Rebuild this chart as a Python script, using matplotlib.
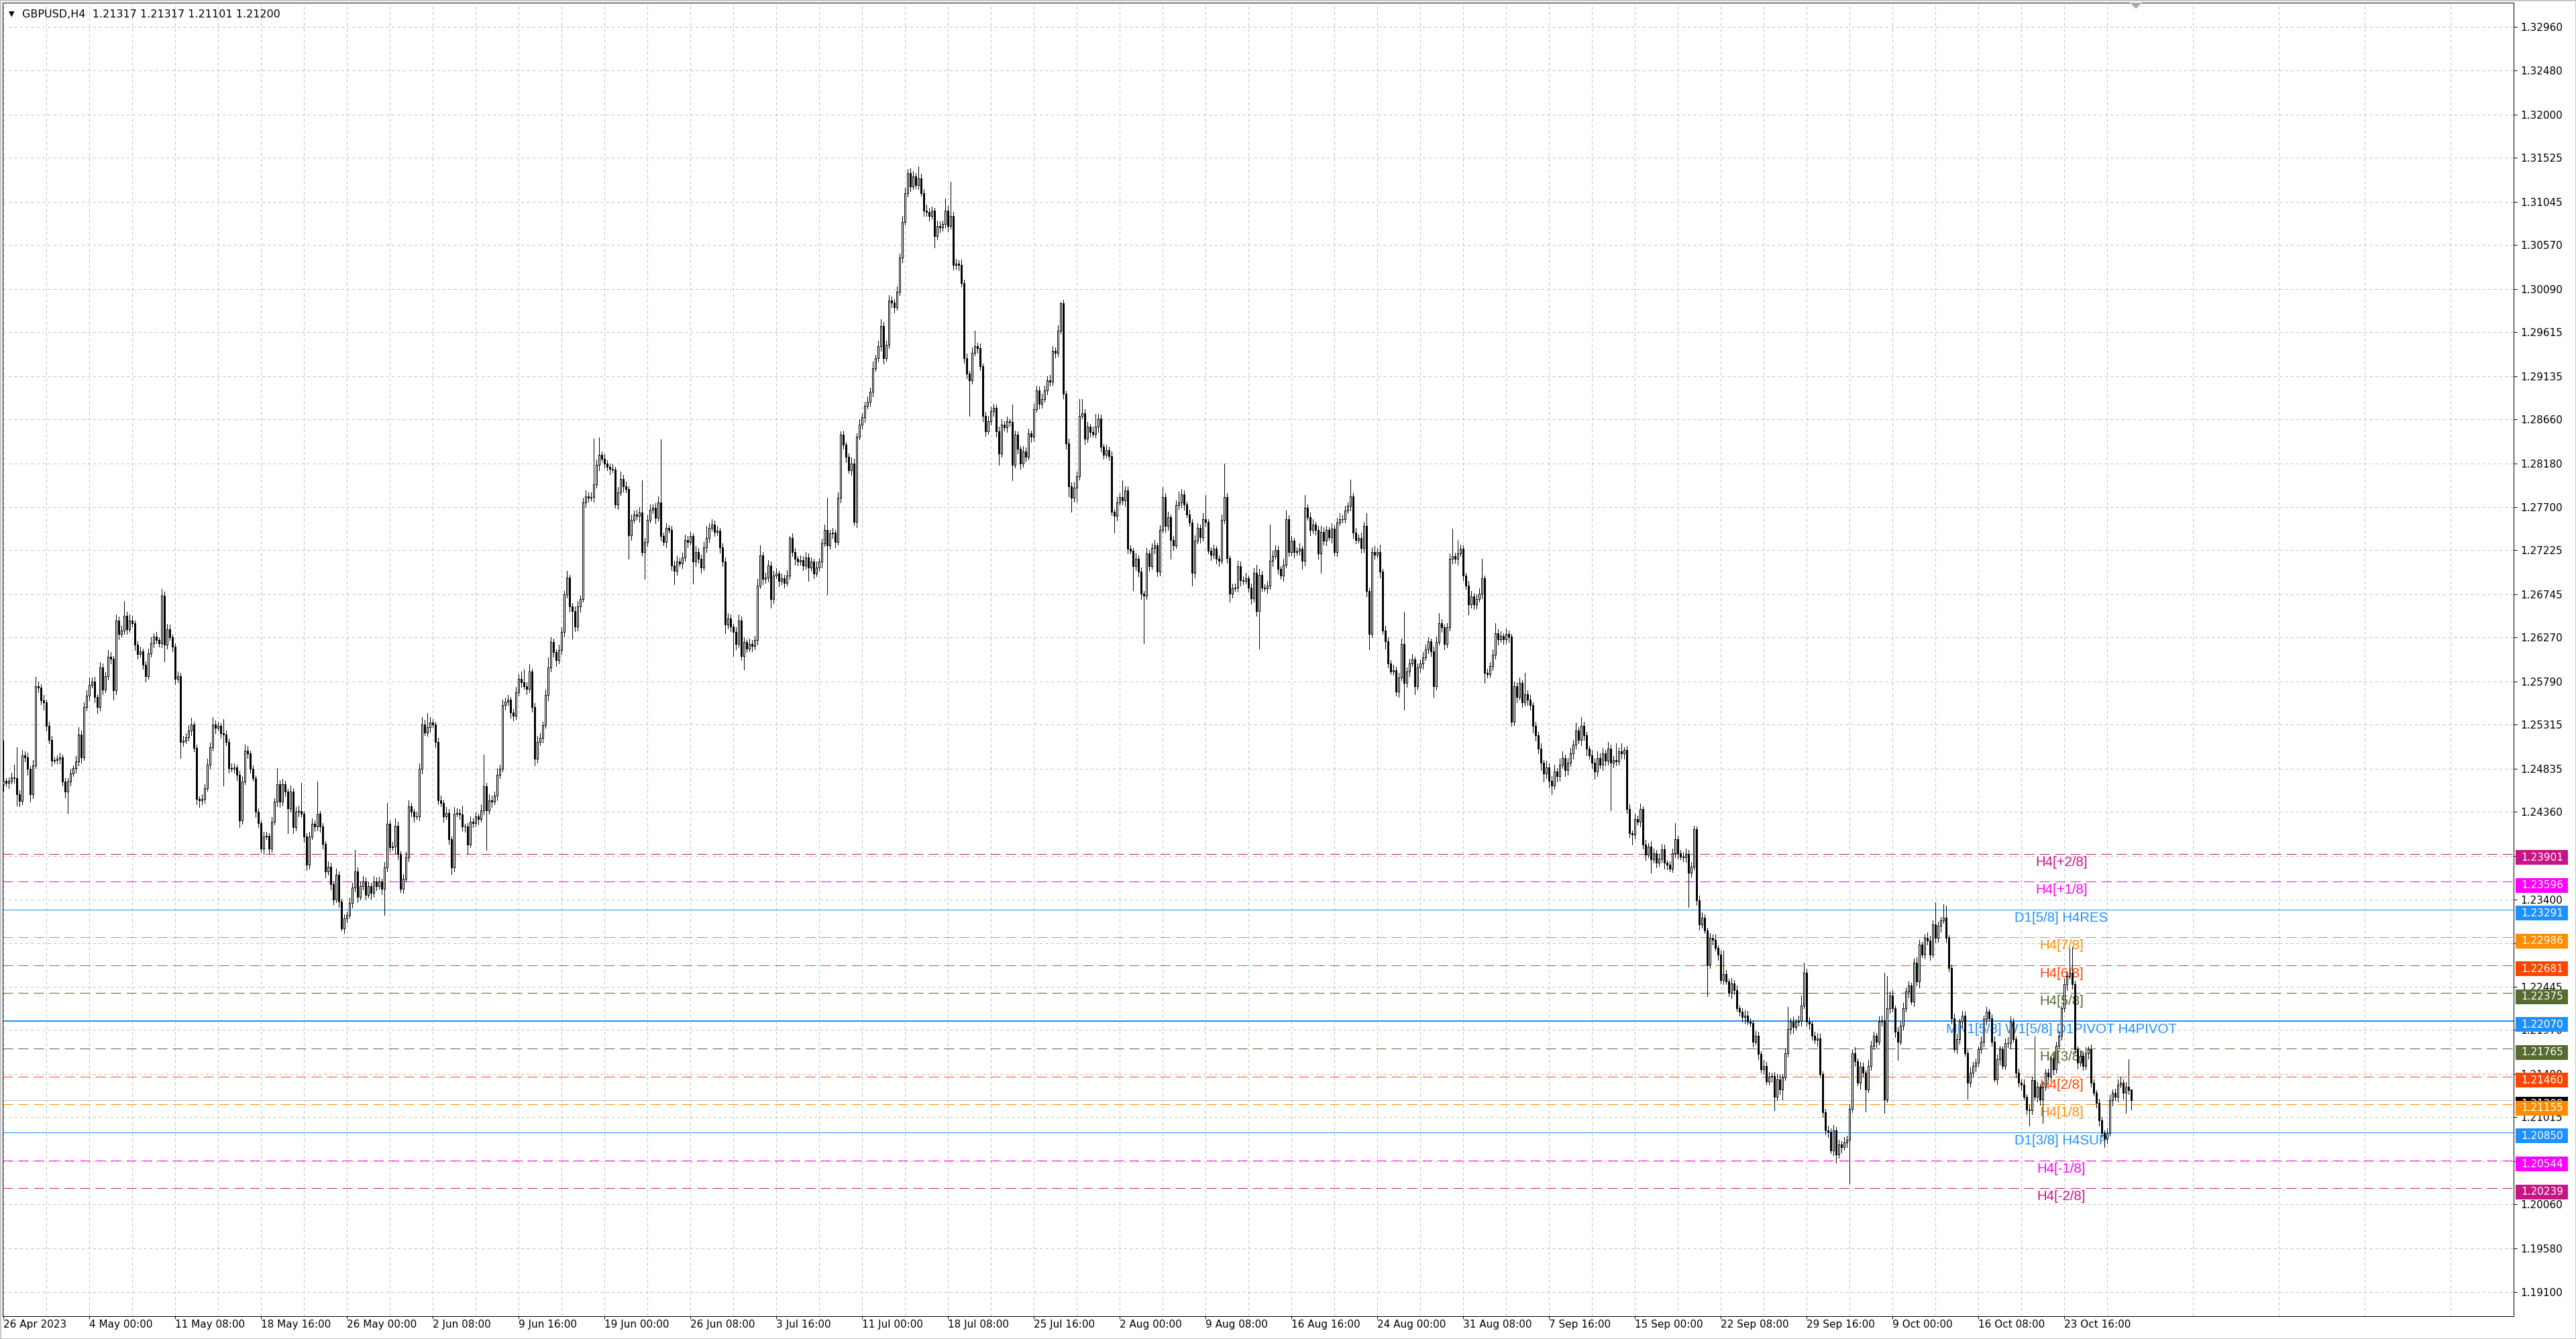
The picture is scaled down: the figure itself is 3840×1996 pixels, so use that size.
import numpy as np
import matplotlib
matplotlib.use("Agg")
import matplotlib.pyplot as plt
import matplotlib.transforms as mtransforms
from matplotlib.patches import Rectangle, Polygon

plt.rcParams['font.family'] = ['DejaVu Sans']
plt.rcParams['lines.scale_dashes'] = False

# ---------------- data ----------------
title_text = "GBPUSD,H4  1.21317 1.21317 1.21101 1.21200"
first_open_pips = 12466
last_bar_ohlc = (1.21317, 1.21317, 1.21101, 1.21200)

# H4 closes in pips (1 pip = 0.0001)
close_a = [12470, 12468, 12470, 12474, 12473, 12455, 12448, 12498, 12496, 12483,
           12455, 12487, 12574, 12572, 12558, 12556, 12530, 12515, 12492, 12493,
           12494, 12496, 12469, 12458, 12469, 12478, 12484, 12491, 12521, 12496,
           12551, 12563, 12575, 12579, 12562, 12551, 12594, 12570, 12585, 12606,
           12604, 12569, 12646, 12631, 12635, 12651, 12636, 12646, 12643, 12619,
           12609, 12612, 12597, 12585, 12610, 12621, 12628, 12624, 12621, 12673,
           12619, 12636, 12627, 12617, 12582, 12585, 12513, 12514, 12518, 12525,
           12532, 12506, 12450, 12449, 12450, 12462, 12488, 12507, 12532, 12528,
           12530, 12522, 12521, 12513, 12484, 12483, 12485, 12477, 12427, 12469,
           12503, 12500, 12483, 12473, 12436, 12424, 12396, 12409, 12410, 12396]
close_b = [12425, 12447, 12466, 12447, 12466, 12458, 12440, 12458, 12419, 12436,
           12437, 12434, 12409, 12378, 12409, 12423, 12420, 12434, 12420, 12401,
           12371, 12376, 12357, 12340, 12367, 12338, 12308, 12319, 12323, 12336,
           12353, 12371, 12343, 12355, 12360, 12345, 12355, 12347, 12360, 12355,
           12360, 12352, 12375, 12423, 12397, 12398, 12421, 12390, 12352, 12363,
           12386, 12442, 12436, 12431, 12431, 12483, 12532, 12523, 12529, 12534,
           12532, 12513, 12449, 12446, 12431, 12435, 12406, 12375, 12434, 12435,
           12433, 12420, 12420, 12400, 12425, 12424, 12431, 12428, 12438, 12464,
           12438, 12449, 12447, 12454, 12477, 12483, 12553, 12557, 12559, 12545,
           12541, 12567, 12582, 12578, 12574, 12571, 12590, 12551, 12494, 12513]
close_c = [12517, 12531, 12564, 12594, 12622, 12611, 12602, 12613, 12633, 12674,
           12693, 12661, 12656, 12639, 12661, 12669, 12775, 12782, 12780, 12781,
           12795, 12816, 12827, 12823, 12818, 12814, 12812, 12811, 12773, 12786,
           12801, 12793, 12790, 12739, 12756, 12762, 12760, 12764, 12721, 12732,
           12756, 12767, 12769, 12758, 12775, 12738, 12732, 12747, 12745, 12706,
           12700, 12710, 12708, 12715, 12734, 12732, 12738, 12710, 12721, 12713,
           12704, 12726, 12736, 12747, 12751, 12743, 12744, 12726, 12710, 12641,
           12648, 12639, 12633, 12620, 12646, 12607, 12622, 12615, 12620, 12618,
           12624, 12684, 12717, 12691, 12693, 12706, 12669, 12695, 12697, 12689,
           12692, 12687, 12695, 12736, 12721, 12713, 12710, 12712, 12706, 12715]
close_d = [12704, 12710, 12697, 12704, 12710, 12730, 12745, 12728, 12741, 12742,
           12732, 12780, 12849, 12838, 12825, 12810, 12818, 12754, 12847, 12860,
           12868, 12881, 12885, 12896, 12922, 12933, 12946, 12968, 12933, 12948,
           12996, 12994, 12989, 13006, 13043, 13082, 13114, 13136, 13121, 13132,
           13123, 13130, 13114, 13095, 13093, 13089, 13095, 13067, 13078, 13076,
           13080, 13095, 13078, 13089, 13035, 13037, 13035, 13015, 12933, 12916,
           12909, 12939, 12946, 12944, 12924, 12870, 12853, 12864, 12875, 12879,
           12853, 12829, 12860, 12857, 12864, 12863, 12816, 12849, 12834, 12818,
           12831, 12825, 12851, 12847, 12877, 12898, 12883, 12888, 12898, 12909,
           12907, 12941, 12939, 12963, 12993, 12894, 12840, 12793, 12780, 12791]
close_e = [12804, 12870, 12873, 12845, 12858, 12852, 12850, 12858, 12867, 12836,
           12827, 12832, 12826, 12765, 12760, 12775, 12781, 12777, 12788, 12724,
           12722, 12705, 12713, 12699, 12675, 12673, 12719, 12705, 12725, 12728,
           12699, 12745, 12781, 12749, 12759, 12734, 12728, 12772, 12775, 12784,
           12773, 12762, 12753, 12698, 12733, 12747, 12737, 12757, 12754, 12722,
           12718, 12724, 12713, 12711, 12756, 12781, 12714, 12675, 12681, 12682,
           12705, 12690, 12689, 12692, 12682, 12670, 12698, 12656, 12696, 12682,
           12681, 12684, 12711, 12716, 12723, 12702, 12695, 12707, 12757, 12721,
           12733, 12721, 12722, 12724, 12711, 12769, 12759, 12745, 12751, 12745,
           12719, 12743, 12733, 12745, 12737, 12746, 12721, 12753, 12757, 12757]
close_f = [12766, 12771, 12782, 12742, 12734, 12736, 12725, 12749, 12678, 12631,
           12721, 12718, 12721, 12699, 12635, 12623, 12599, 12590, 12591, 12568,
           12583, 12620, 12577, 12590, 12599, 12603, 12574, 12594, 12599, 12605,
           12614, 12623, 12612, 12574, 12622, 12643, 12638, 12620, 12638, 12713,
           12716, 12713, 12719, 12724, 12695, 12684, 12663, 12672, 12663, 12669,
           12675, 12692, 12588, 12587, 12596, 12608, 12632, 12625, 12629, 12625,
           12631, 12628, 12535, 12574, 12562, 12577, 12556, 12565, 12559, 12553,
           12530, 12520, 12505, 12490, 12478, 12485, 12470, 12465, 12480, 12475,
           12488, 12495, 12482, 12490, 12500, 12510, 12525, 12515, 12530, 12520,
           12505, 12498, 12490, 12480, 12495, 12488, 12500, 12492, 12505, 12490]
close_g = [12493, 12491, 12502, 12500, 12504, 12439, 12413, 12411, 12428, 12425,
           12439, 12400, 12389, 12398, 12384, 12391, 12380, 12385, 12395, 12380,
           12378, 12374, 12391, 12406, 12391, 12387, 12386, 12390, 12369, 12376,
           12417, 12339, 12313, 12320, 12306, 12269, 12298, 12296, 12287, 12280,
           12252, 12258, 12250, 12238, 12248, 12241, 12221, 12217, 12211, 12213,
           12206, 12205, 12184, 12191, 12171, 12154, 12158, 12141, 12146, 12147,
           12124, 12143, 12132, 12145, 12172, 12198, 12206, 12200, 12206, 12207,
           12224, 12260, 12206, 12204, 12191, 12186, 12188, 12149, 12107, 12087,
           12086, 12065, 12087, 12061, 12072, 12069, 12074, 12077, 12111, 12172,
           12163, 12139, 12157, 12150, 12132, 12158, 12180, 12191, 12184, 12206]
close_h = [12208, 12121, 12221, 12235, 12221, 12195, 12184, 12202, 12221, 12239,
           12246, 12228, 12271, 12250, 12291, 12280, 12298, 12295, 12280, 12313,
           12298, 12311, 12317, 12320, 12298, 12265, 12210, 12176, 12187, 12206,
           12213, 12172, 12139, 12150, 12158, 12161, 12176, 12184, 12209, 12217,
           12210, 12184, 12143, 12165, 12176, 12158, 12183, 12183, 12206, 12187,
           12150, 12139, 12137, 12124, 12110, 12109, 12142, 12124, 12135, 12121,
           12135, 12150, 12146, 12165, 12154, 12180, 12191, 12221, 12247, 12256,
           12260, 12247, 12176, 12161, 12169, 12158, 12172, 12176, 12139, 12128,
           12117, 12098, 12084, 12078, 12084, 12120, 12128, 12124, 12137, 12139,
           12128, 12135, 12131, 12120]

# upper / lower wick lengths in pips
wick_up_a = [44,3,4,5,14,34,5,6,4,5, 3,6,10,5,4,6,3,5,4,3, 4,5,3,4,4,5,3,6,8,4,
             5,6,8,4,5,3,6,5,4,7, 5,3,6,4,5,16,4,6,5,3, 4,5,3,4,5,6,4,5,3,7,
             4,6,5,3,4,5,3,5,4,6, 7,3,4,3,5,4,6,5,8,4, 5,3,16,4,3,5,4,3,4,6,
             7,5,3,4,3,4,3,5,4,3]
wick_dn_a = [7,4,6,3,5,12,6,4,5,6, 8,4,3,5,4,8,5,4,6,3, 4,5,4,6,23,4,3,5,4,6,
             3,4,5,3,6,7,4,5,3,4, 5,10,4,6,3,4,5,3,4,6, 5,3,4,6,3,4,5,3,4,5,
             18,4,3,5,6,4,18,5,3,4, 5,4,6,8,5,4,3,5,4,6, 3,5,56,4,5,3,4,6,8,4,
             3,5,4,3,6,5,4,6,3,6]
wick_up_b = [5,4,18,5,6,4,3,7,4,5, 6,31,3,4,5,6,4,35,3,4, 3,6,4,3,7,4,3,5,4,6,
             5,23,4,5,6,4,5,3,6,4, 5,3,6,23,4,5,8,4,3,5, 6,7,4,3,5,6,8,5,15,6,
             4,3,4,5,3,6,4,3,7,5, 4,10,3,4,6,4,5,3,6,35, 4,6,5,4,7,5,6,4,5,3,
             4,6,5,8,14,4,8,3,4,6]
wick_dn_b = [4,3,5,6,4,5,27,4,6,3, 5,4,6,6,4,3,5,4,6,5, 7,4,6,5,3,6,2,5,4,3,
             5,4,6,3,4,5,3,6,4,5, 3,6,29,4,5,3,8,6,4,5, 3,4,5,6,3,4,5,3,4,5,
             3,6,5,4,6,3,5,7,4,3, 5,4,6,10,3,5,4,6,3,5, 44,4,6,3,5,4,3,5,4,6,
             5,3,4,5,3,6,4,5,7,4]
wick_up_c = [5,4,6,11,5,4,3,6,5,4, 7,3,4,5,6,4,5,6,4,5, 50,6,19,4,5,3,4,5,3,6,
             8,4,5,3,6,4,5,6,35,4, 5,6,4,5,7,69,4,5,3,4, 5,6,4,5,6,4,5,3,6,4,
             5,6,13,5,6,4,5,3,4,5, 6,4,3,5,6,4,5,3,6,4, 5,7,11,4,5,6,4,5,6,3,
             5,4,6,2,5,4,3,5,4,6]
wick_dn_c = [4,5,3,6,4,5,6,3,4,5, 3,6,30,5,4,6,3,5,4,3, 5,4,6,3,5,4,6,3,4,5,
             3,6,4,26,5,3,4,6,4,30, 5,3,4,6,3,5,4,6,3,5, 15,4,3,5,4,6,3,24,5,4,
             6,3,5,4,3,5,4,6,5,9, 4,5,26,6,4,5,15,4,3,6, 4,5,3,6,4,5,9,4,3,6,
             4,5,3,4,5,6,4,3,5,4]
wick_up_d = [4,5,3,6,4,5,6,35,4,5, 3,6,4,5,3,4,6,5,4,6, 5,4,6,5,7,4,6,8,5,4,
             6,5,4,6,5,7,6,4,5,6, 4,13,5,4,6,5,4,3,6,5, 4,13,5,37,4,5,3,6,4,5,
             3,6,17,4,5,3,4,6,5,4, 3,5,6,4,5,3,19,5,4,3, 6,4,5,3,6,5,4,6,5,4,
             6,5,4,6,2,4,3,5,4,6]
wick_dn_d = [15,4,5,3,4,6,3,54,4,5, 6,3,5,4,6,3,5,4,6,3, 4,5,3,4,5,3,4,5,6,3,
             4,5,6,3,4,5,3,4,5,3, 4,5,3,6,4,5,3,13,4,5, 3,4,6,3,5,4,6,3,5,5,
             39,4,3,5,4,6,5,3,4,5, 6,13,4,3,5,4,17,3,5,6, 4,5,3,6,4,3,5,4,3,5,
             4,3,5,4,3,5,6,11,15,4]
wick_up_e = [5,18,15,4,5,3,6,14,5,4, 3,6,4,5,3,6,4,18,5,5, 4,3,6,4,5,3,6,4,5,6,
             3,5,11,4,6,3,4,5,12,6, 4,3,5,4,6,5,4,6,26,3, 4,5,3,4,6,37,4,3,5,4,
             6,5,4,6,3,4,5,9,6,4, 3,5,40,6,5,4,3,6,9,4, 5,3,4,6,3,14,4,5,6,3,
             4,6,5,4,3,6,4,5,6,4]
wick_dn_e = [15,4,3,6,4,5,3,4,6,5, 4,3,5,4,18,5,3,4,6,5, 3,26,4,5,6,52,4,5,3,6,
             5,4,3,6,4,21,5,3,4,5, 6,3,4,14,5,3,6,4,5,3, 6,4,5,6,3,4,5,9,4,3,
             5,6,4,3,5,6,4,5,41,4, 3,5,4,6,3,5,4,6,3,5, 4,6,3,4,9,5,3,6,4,5,
             6,21,4,5,3,6,4,5,3,4]
wick_up_f = [5,4,18,3,5,4,6,5,14,4, 5,6,4,8,3,5,4,3,6,4, 5,6,35,4,5,6,3,5,4,6,
             5,4,3,5,6,11,4,3,5,6, 30,4,15,5,4,3,5,6,4,5, 6,21,3,5,4,6,11,4,5,3,
             6,4,3,5,4,6,3,23,4,5, 3,5,4,6,3,7,4,5,8,4, 6,7,4,5,6,5,9,4,10,5,
             4,3,6,4,7,5,6,4,8,5]
wick_dn_f = [4,3,5,6,4,3,5,4,6,17, 4,5,3,6,4,8,5,3,4,5, 6,3,29,4,5,3,9,4,5,6,
             3,4,5,12,4,3,5,6,4,3, 5,4,6,3,5,4,11,3,5,4, 3,5,11,4,3,5,4,6,3,5,
             4,6,5,4,6,3,5,4,6,5, 7,6,5,8,9,5,7,10,4,6, 5,4,7,5,4,6,5,4,6,5,
             7,4,6,8,5,4,6,5,4,52]
wick_up_g = [4,18,5,9,3,4,5,3,6,4, 6,3,5,4,6,5,3,4,6,5, 3,4,5,18,4,3,5,6,4,5,
             4,3,5,6,4,3,5,4,6,3, 4,26,5,3,6,4,5,3,4,6, 5,4,3,5,4,3,6,4,5,3,
             4,6,5,4,5,24,4,5,3,6, 11,11,4,5,3,4,6,5,3,4, 5,3,6,4,5,3,6,4,5,4,
             6,3,5,4,3,6,5,4,3,6]
wick_dn_g = [5,4,3,5,6,4,5,11,4,3, 5,4,6,3,15,4,5,3,4,6, 5,3,4,5,6,3,4,5,37,4,
             3,5,6,4,3,35,4,5,3,6, 4,5,3,4,6,5,3,4,5,6, 3,4,5,3,6,4,5,3,4,6,
             15,4,5,11,3,4,5,6,3,4, 5,3,4,6,5,3,6,4,5,4, 6,3,5,9,4,6,3,5,48,4,
             5,3,6,4,24,3,5,4,6,3]
wick_up_h = [5,52,35,4,6,3,5,4,6,5, 4,3,4,6,5,3,4,6,5,4, 24,5,4,15,13,3,4,5,6,3,
             5,4,3,6,4,5,3,6,4,5, 3,4,6,5,4,3,5,6,6,4, 3,5,4,6,3,5,4,48,5,3,
             6,4,5,3,6,4,5,3,6,5, 26,28,4,3,5,4,6,3,5,4, 3,5,4,3,5,6,4,5,6,7,
             4,5,30,0]
wick_dn_h = [4,15,3,5,4,6,20,3,5,4, 6,3,5,4,6,3,5,4,6,3, 5,4,6,3,5,4,6,3,4,5,
             6,3,17,4,5,6,3,4,5,6, 3,4,2,5,6,3,4,5,6,3, 5,4,6,3,5,17,4,3,5,6,
             26,4,3,5,6,4,3,5,4,6, 3,5,4,6,3,5,4,6,4,3, 5,6,4,9,5,3,6,4,5,3,
             6,22,4,2]

time_labels = ["26 Apr 2023", "4 May 00:00", "11 May 08:00", "18 May 16:00", "26 May 00:00",
               "2 Jun 08:00", "9 Jun 16:00", "19 Jun 00:00", "26 Jun 08:00", "3 Jul 16:00",
               "11 Jul 00:00", "18 Jul 08:00", "25 Jul 16:00", "2 Aug 00:00", "9 Aug 08:00",
               "16 Aug 16:00", "24 Aug 00:00", "31 Aug 08:00", "7 Sep 16:00", "15 Sep 00:00",
               "22 Sep 08:00", "29 Sep 16:00", "9 Oct 00:00", "16 Oct 08:00", "23 Oct 16:00"]
bars_per_label = 32

price_ticks = [1.32960, 1.32480, 1.32000, 1.31525, 1.31045, 1.30570, 1.30090, 1.29615,
               1.29135, 1.28660, 1.28180, 1.27700, 1.27225, 1.26745, 1.26270, 1.25790,
               1.25315, 1.24835, 1.24360, 1.23880, 1.23400, 1.22920, 1.22445, 1.21970,
               1.21490, 1.21015, 1.20535, 1.20060, 1.19580, 1.19100]

level_prices = [1.23901, 1.23596, 1.23291, 1.22986, 1.22681, 1.22375, 1.22070,
                1.21765, 1.21460, 1.21155, 1.20850, 1.20544, 1.20239]
level_names = ["H4[+2/8]", "H4[+1/8]", "D1[5/8] H4RES", "H4[7/8]", "H4[6/8]", "H4[5/8]",
               "MN1[5/8] W1[5/8] D1PIVOT H4PIVOT", "H4[3/8]", "H4[2/8]", "H4[1/8]",
               "D1[3/8] H4SUP", "H4[-1/8]", "H4[-2/8]"]
level_colors = ["#C71585", "#FF00FF", "#1E90FF", "#FF8C00", "#FF4500", "#556B2F", "#1E90FF",
                "#556B2F", "#FF4500", "#FF8C00", "#1E90FF", "#FF00FF", "#C71585"]
level_solid = [False, False, True, False, False, False, True, False, False, False, True, False, False]
level_width_px = [1, 1, 1, 1, 1, 1, 2, 1, 1, 1, 1, 1, 1]
bid_price = 1.21200

# ---------------- assemble OHLC ----------------
closes = np.array(close_a + close_b + close_c + close_d + close_e + close_f + close_g + close_h) / 10000.0
wu = np.array(wick_up_a + wick_up_b + wick_up_c + wick_up_d + wick_up_e + wick_up_f + wick_up_g + wick_up_h) / 10000.0
wd = np.array(wick_dn_a + wick_dn_b + wick_dn_c + wick_dn_d + wick_dn_e + wick_dn_f + wick_dn_g + wick_dn_h) / 10000.0
n = len(closes)
assert len(wu) == n and len(wd) == n, (n, len(wu), len(wd))
opens = np.r_[first_open_pips / 10000.0, closes[:-1]]
highs = np.maximum(opens, closes) + wu
lows = np.minimum(opens, closes) - wd
opens[-1], highs[-1], lows[-1], closes[-1] = last_bar_ohlc

# ---------------- figure geometry (pixels) ----------------
W, H = 3840, 1996
DPI = 100
PX = 72.0 / DPI  # points per pixel
ax_l, ax_r, ax_t, ax_b = 4, 3747, 4, 1962
fig = plt.figure(figsize=(W / DPI, H / DPI), dpi=DPI, facecolor="white")
ax = fig.add_axes([ax_l / W, (H - ax_b) / H, (ax_r - ax_l) / W, (ax_b - ax_t) / H])
ax.set_facecolor("white")

bar_px = 4.0
x0_px = 5.0
ax.set_xlim((ax_l - x0_px) / bar_px, (ax_r - x0_px) / bar_px)
p_per_px = 7.3494e-5
y_top = 1.191 + (1926 - ax_t) * p_per_px
y_bot = 1.191 - (ax_b - 1926) * p_per_px
ax.set_ylim(y_bot, y_top)

for s in ax.spines.values():
    s.set_color("black")
    s.set_linewidth(1.0 * PX)

# grid
grid_kw = dict(color="#C0C0C0", linewidth=1.0 * PX, linestyle=(0, (3 * PX * 1.4, 3 * PX * 1.4)))
ax.set_axisbelow(True)
label_pos = np.arange(len(time_labels)) * bars_per_label
ax.set_xticks(label_pos)
ax.set_xticklabels(time_labels)
ax.set_xticks(np.arange(16, ax.get_xlim()[1], 32), minor=True)
ax.set_yticks(price_ticks)
ax.set_yticklabels(["%.5f" % p for p in price_ticks])
ax.grid(True, which="both", axis="x", **grid_kw)
ax.grid(True, which="major", axis="y", **grid_kw)

ax.yaxis.set_ticks_position("right")
ax.tick_params(axis="y", which="major", direction="out", length=5 * PX, width=1 * PX,
               pad=5 * PX, labelsize=11, colors="black")
ax.tick_params(axis="x", which="major", direction="out", length=4 * PX, width=1 * PX,
               pad=1, labelsize=11, colors="black")
ax.tick_params(axis="x", which="minor", length=0)
for lab in ax.get_xticklabels():
    lab.set_horizontalalignment("left")

# level lines + labels
label_bar = 767
for p, name, col, solid, wpx in zip(level_prices, level_names, level_colors, level_solid, level_width_px):
    if solid:
        ax.axhline(p, color=col, linewidth=wpx * PX, zorder=2)
    else:
        ax.axhline(p, color=col, linewidth=wpx * PX, zorder=2,
                   linestyle=(0, (15 * PX, 8 * PX)))
    ax.text(label_bar, p - 3 * p_per_px, name, color=col, fontsize=14.7,
            family=["Liberation Sans", "DejaVu Sans"], ha="center", va="top", zorder=2.5)

# bid line
ax.axhline(bid_price, color="#C0C0C0", linewidth=1 * PX, zorder=2)

# candles
x = np.arange(n)
ax.vlines(x, lows, highs, colors="black", linewidth=1 * PX, zorder=3, antialiased=False)
bull = closes >= opens
bear = ~bull
ax.bar(x[bull], (closes - opens)[bull], bottom=opens[bull], width=0.5, color="white",
       edgecolor="black", linewidth=1 * PX, zorder=4, antialiased=False)
ax.bar(x[bear], (opens - closes)[bear], bottom=closes[bear], width=0.5, color="black",
       edgecolor="black", linewidth=1 * PX, zorder=4, antialiased=False)

# price boxes on the right scale (box sits slightly below its line, as MT4 draws it)
blend = mtransforms.blended_transform_factory(fig.transFigure, ax.transData)
box_x0, box_w, box_h, box_shift = 3750, 78, 22, 5.5


def price_box(p, col, z):
    yc = p - box_shift * p_per_px
    ax.add_patch(Rectangle((box_x0 / W, yc - box_h / 2 * p_per_px), box_w / W, box_h * p_per_px,
                           transform=blend, facecolor=col, edgecolor="none",
                           clip_on=False, zorder=z))
    ax.text((box_x0 + 8) / W, yc, "%.5f" % p, transform=blend, color="white", fontsize=11,
            ha="left", va="center", clip_on=False, zorder=z + 0.5)


price_box(bid_price, "black", 6)
for i, (p, col) in enumerate(zip(level_prices, level_colors)):
    price_box(p, col, 7 + i)

# title
fig.text(13 / W, 1 - 21 / H, "\u25BC", fontsize=8, va="center", ha="left", color="black")
fig.text(33 / W, 1 - 21 / H, title_text, fontsize=11.5, va="center", ha="left", color="black")

# chart shift marker
tri = Polygon([[3175 / W, 1 - 4 / H], [3193 / W, 1 - 4 / H], [3184 / W, 1 - 13 / H]],
              closed=True, transform=fig.transFigure, facecolor="#A8A8A8", edgecolor="none")
fig.patches.append(tri)

# window border
fig.patches.append(Rectangle((0, 0), 1, 1, transform=fig.transFigure, fill=False,
                             edgecolor="#C8C8C8", linewidth=3 * PX))

fig.savefig("out.png", dpi=DPI, facecolor="white")
